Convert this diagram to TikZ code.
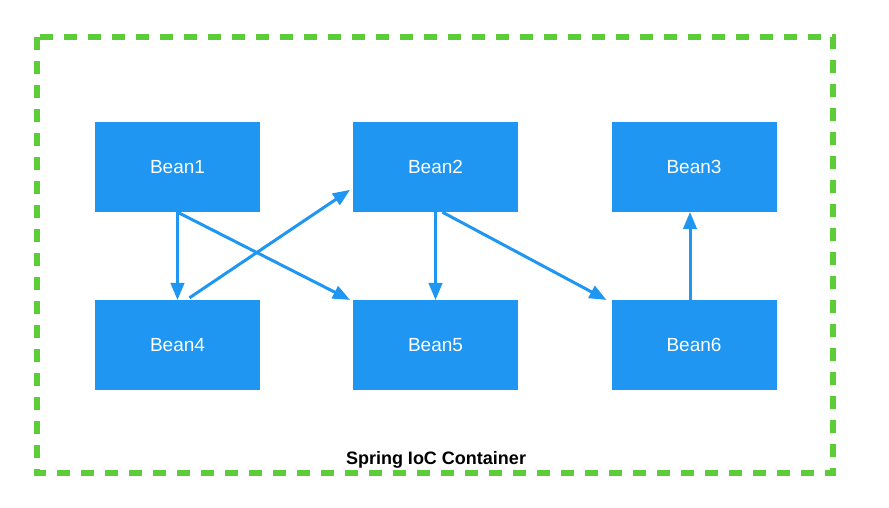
\documentclass[tikz,border=0pt]{standalone}
\usepackage{fontspec}
\setmainfont{Liberation Sans}
\usetikzlibrary{calc}
\usetikzlibrary{arrows}
\definecolor{beanblue}{rgb}{0.12,0.59,0.95}
\definecolor{boxgreen}{rgb}{0.36,0.80,0.22}
\tikzstyle{bean}=[fill=beanblue,minimum width=165pt,minimum height=90pt,inner sep=0pt,text=white,font=\fontsize{19}{21}\selectfont]
\tikzstyle{dep}=[->,line width=3pt,color=beanblue]

\begin{document}
\begin{tikzpicture}[line join=miter,>=triangle 45,x=1pt,y=-1pt]
            \useasboundingbox (0,0) rectangle (889,507);
            \draw [line width=6pt,color=boxgreen,dash pattern=on 13pt off 11pt] (37,37) rectangle (833,473);
            \node [bean] (b1) at (177.5,167) {Bean1};
            \node [bean] (b2) at (435.5,167) {Bean2};
            \node [bean] (b3) at (694,167) {Bean3};
            \node [bean] (b4) at (177.5,345) {Bean4};
            \node [bean] (b5) at (435.5,345) {Bean5};
            \node [bean] (b6) at (694,345) {Bean6};
            \draw [dep] (b1.south) -- (b4.north);
            \draw [dep] (b1.south) -- ($(b5.north west)+(-3,0)$);
            \draw [dep] ($(b4.north)+(12,-2)$) -- ($(b2.west)+(-3,23)$);
            \draw [dep] (b2.south) -- (b5.north);
            \draw [dep] ($(b2.south)+(7,0)$) -- ($(b6.north west)+(-5,0)$);
            \draw [dep] ($(b6.north)+(-4,0)$) -- ($(b3.south)+(-4,0)$);
            \node [font=\bfseries\fontsize{18}{20}\selectfont] (title) at (436,460) {Spring IoC Container};
\end{tikzpicture}
\end{document}
